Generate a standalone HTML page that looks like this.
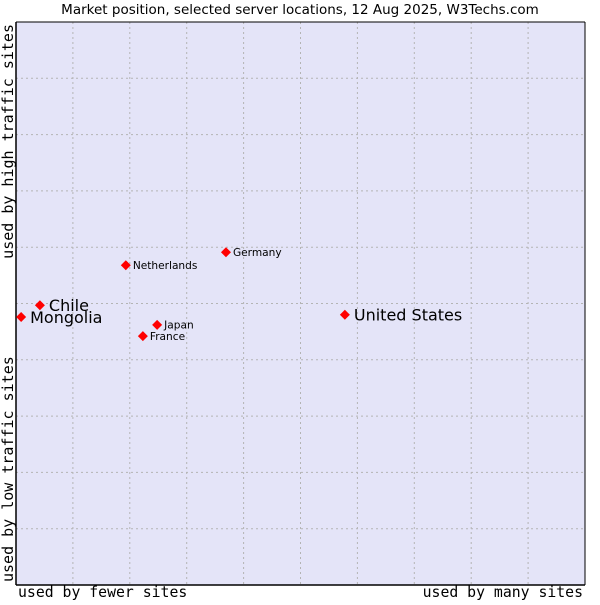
<!DOCTYPE html>
<html><head><meta charset="utf-8"><style>
body{margin:0;background:#fff;}
svg text{font-family:"DejaVu Sans","Liberation Sans",sans-serif;}
.mono{font-family:"DejaVu Sans Mono","Liberation Mono",monospace;}
</style></head><body>
<svg id="chart" width="600" height="600" viewBox="0 0 600 600">
<text x="300" y="14" font-size="13.5" text-anchor="middle" fill="#000">Market position, selected server locations, 12 Aug 2025, W3Techs.com</text>
<rect x="16" y="22" width="569" height="563" fill="#e4e4f8"/>
<g id="grid"></g>
<line x1="16" y1="22" x2="16" y2="585" stroke="#000" stroke-width="1.5"/>
<line x1="16" y1="585" x2="585" y2="585" stroke="#000" stroke-width="1.5"/>
<line x1="16" y1="22" x2="585" y2="22" stroke="#000" stroke-width="1"/>
<line x1="585" y1="22" x2="585" y2="585" stroke="#000" stroke-width="1"/>
<g id="points"></g>
<text class="mono" x="18" y="597" font-size="14.8">used by fewer sites</text>
<text class="mono" x="583" y="597" font-size="14.8" text-anchor="end">used by many sites</text>
<text class="mono" transform="translate(13,582) rotate(-90)" font-size="15">used by low traffic sites</text>
<text class="mono" transform="translate(13,24) rotate(-90)" font-size="15" text-anchor="end">used by high traffic sites</text>
</svg>
<script>
const countries = ["Mongolia","Chile","Netherlands","Germany","Japan","France","United States"];
const xValues = [0.9, 4.2, 19.3, 36.9, 24.8, 22.3, 57.8];
const yValues = [47.6, 49.7, 56.8, 59.1, 46.2, 44.2, 48.0];
const labelSizes = [16, 16, 10.6, 10.6, 10.6, 10.6, 16];
const gridTicks = [10,20,30,40,50,60,70,80,90];

const NS = "http://www.w3.org/2000/svg";
const L=16,R=585,T=22,B=585;
function sx(v){return L+v/100*(R-L);}
function sy(v){return B-v/100*(B-T);}
const grid=document.getElementById('grid');
gridTicks.forEach(t=>{
  const v=document.createElementNS(NS,'line');
  v.setAttribute('x1',sx(t));v.setAttribute('x2',sx(t));v.setAttribute('y1',T);v.setAttribute('y2',B);
  v.setAttribute('stroke','#b4b4b4');v.setAttribute('stroke-dasharray','2,3');
  
  
  grid.appendChild(v);
  const h=document.createElementNS(NS,'line');
  h.setAttribute('y1',sy(t));h.setAttribute('y2',sy(t));h.setAttribute('x1',L);h.setAttribute('x2',R);
  h.setAttribute('stroke','#b4b4b4');h.setAttribute('stroke-dasharray','2,3');
  
  
  grid.appendChild(h);
});
const pts=document.getElementById('points');
countries.forEach((c,i)=>{
  const x=sx(xValues[i]),y=sy(yValues[i]);
  const d=document.createElementNS(NS,'polygon');
  d.setAttribute('points',`${x},${y-5} ${x+5},${y} ${x},${y+5} ${x-5},${y}`);
  d.setAttribute('fill','#ff0000');
  
  
  pts.appendChild(d);
  const t=document.createElementNS(NS,'text');
  t.setAttribute('x',x+(labelSizes[i]>12?9:7));
  t.setAttribute('y',y+labelSizes[i]*0.36);
  t.setAttribute('font-size',labelSizes[i]);
  t.textContent=c;
  
  
  pts.appendChild(t);
});
</script>
</body></html>
